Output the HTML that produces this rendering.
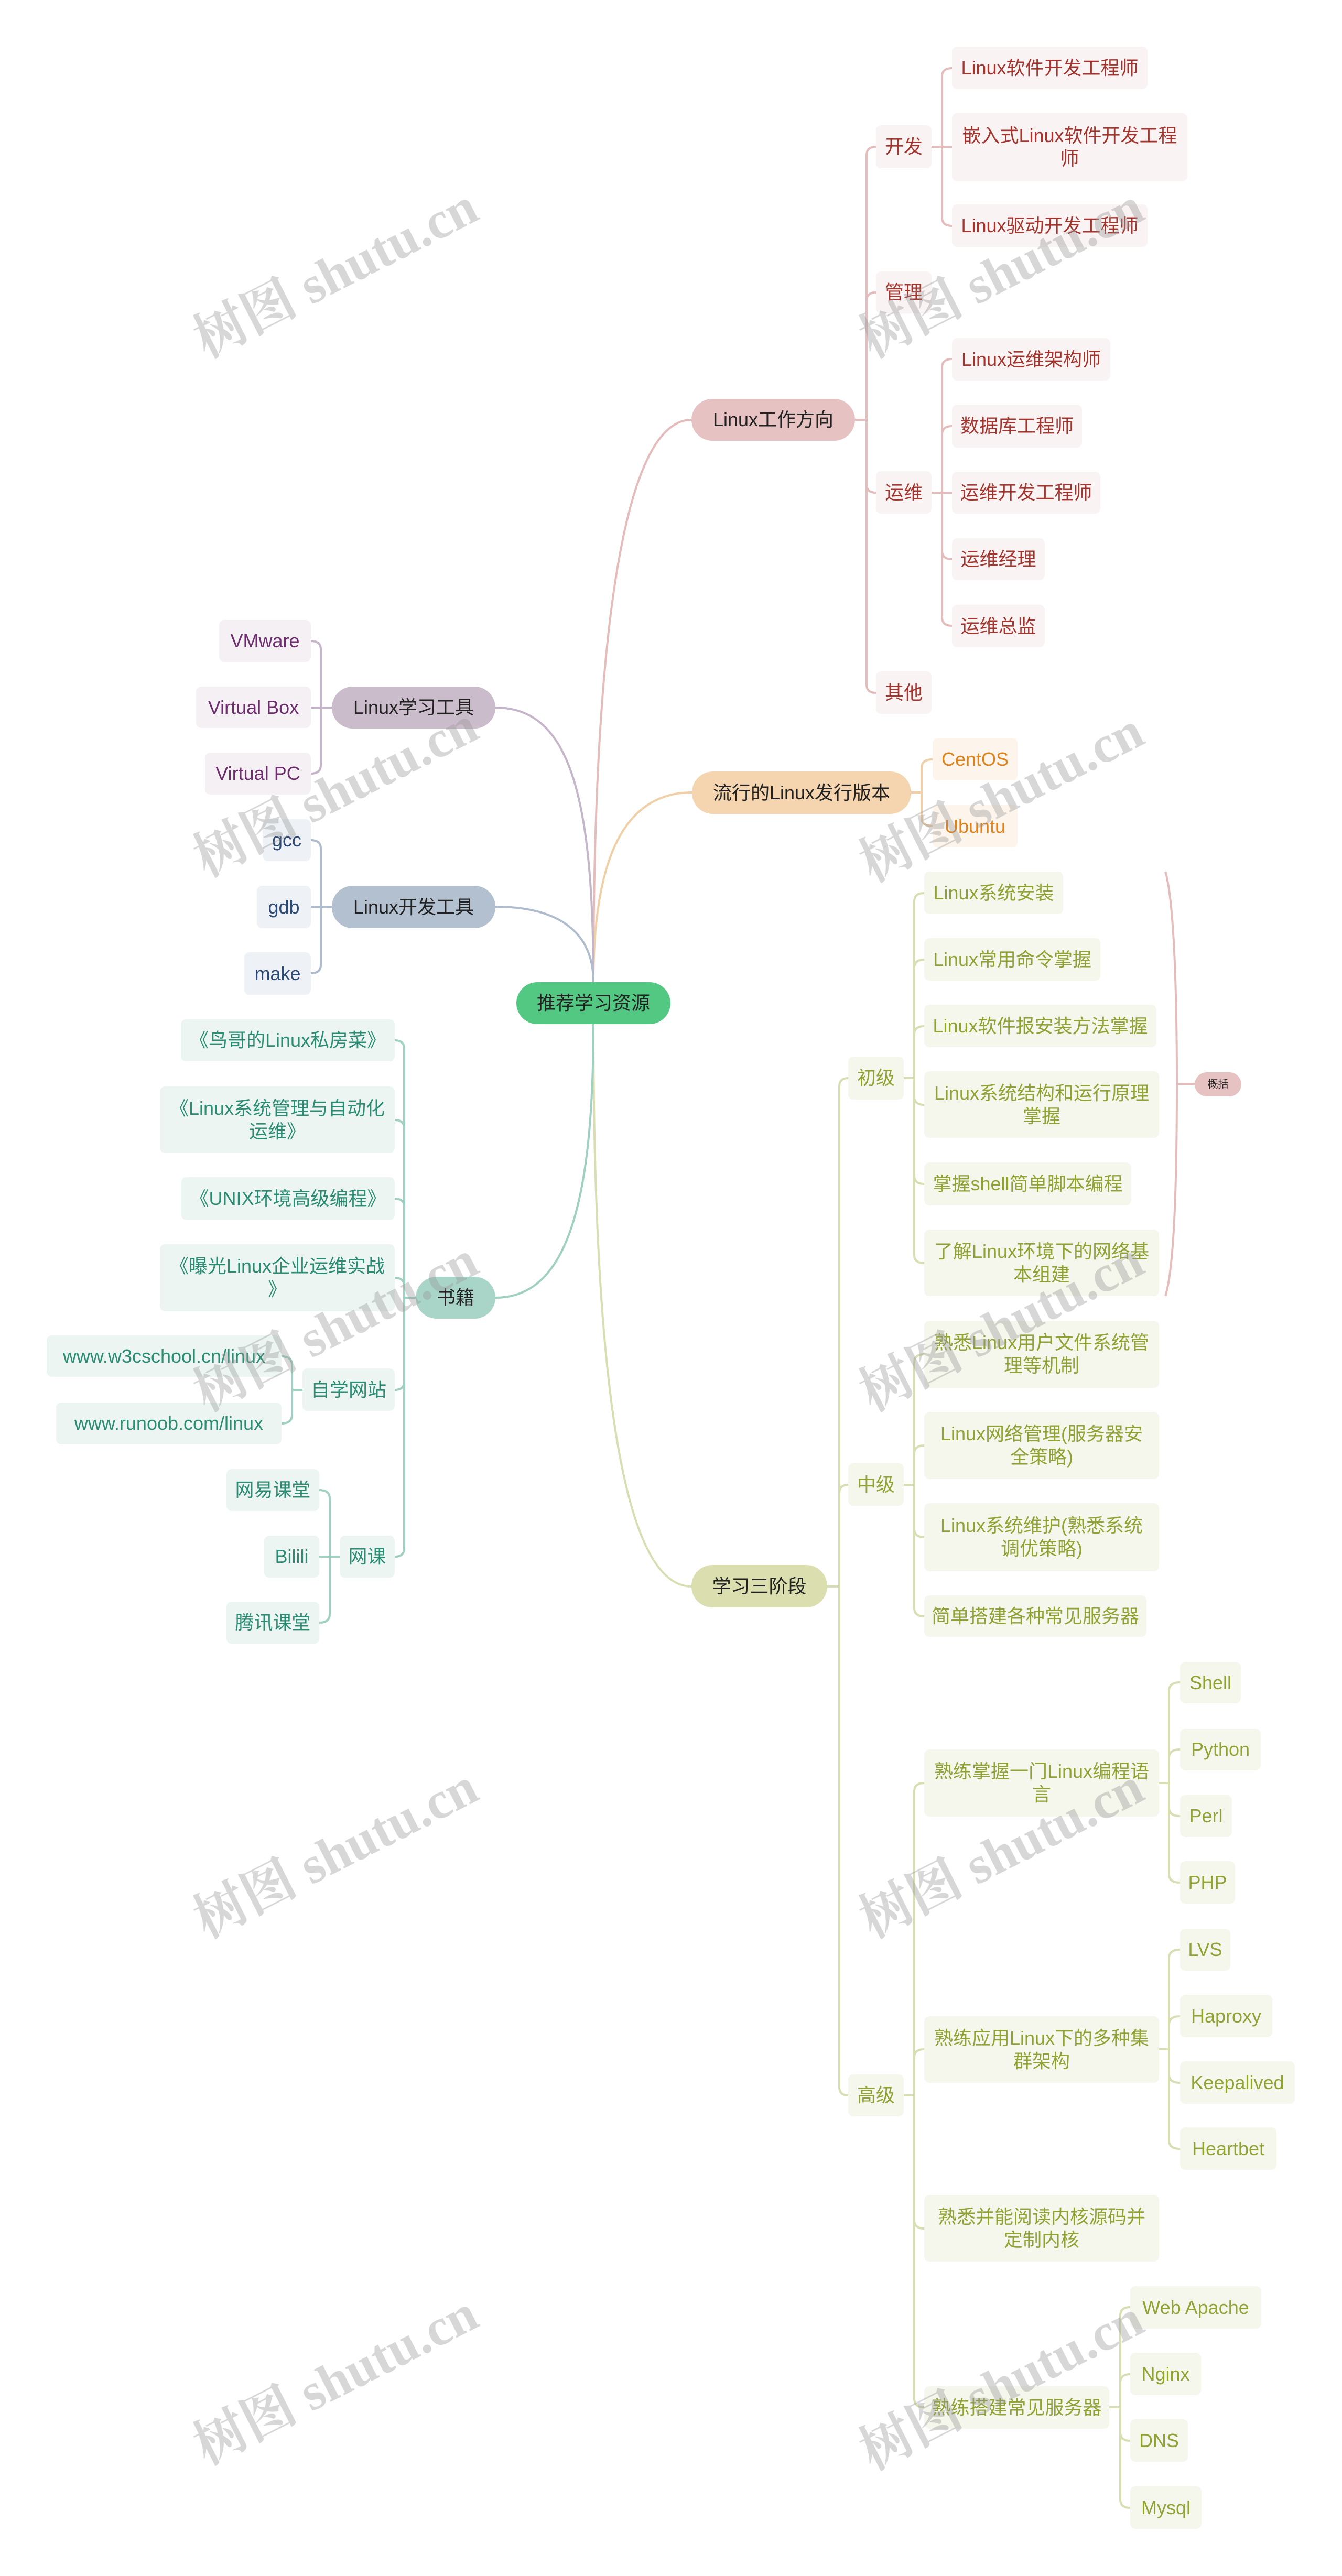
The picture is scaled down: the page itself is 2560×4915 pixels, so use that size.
<!DOCTYPE html>
<html><head><meta charset="utf-8">
<style>
html,body{margin:0;padding:0;background:#fff;}
body{width:2560px;height:4915px;position:relative;overflow:hidden;font-family:"Liberation Sans","Noto Sans CJK SC",sans-serif;}
.n{position:absolute;display:flex;align-items:center;justify-content:center;text-align:center;box-sizing:border-box;border-radius:10px;font-size:36px;line-height:44px;white-space:nowrap;}
.p{border-radius:40px;color:#222;}
.pk{background:#faf3f3;color:#a3352e;}
.or{background:#fdf5ec;color:#e0821a;}
.ol{background:#f5f6ec;color:#8fa233;}
.pu{background:#f4f0f4;color:#6e2d6e;}
.nv{background:#eef2f6;color:#2c4a75;}
.tl{background:#ecf5f2;color:#2a8c72;}
.wm{position:absolute;width:760px;text-align:center;white-space:nowrap;font-family:"Liberation Serif","Noto Serif CJK SC",serif;font-weight:bold;font-size:100px;color:rgba(150,150,150,0.38);transform:rotate(-27deg);}
</style></head><body>
<svg width="2560" height="4915" style="position:absolute;left:0;top:0" fill="none" stroke-width="4">
<g stroke="#e5bcbc">
<path d="M1132,1874 C1132,1150 1200,801 1319,801"/>
<path d="M1631,801 H1653"/>
<path d="M1653,801 V296 Q1653,280 1671,280"/>
<path d="M1653,801 V574 Q1653,558 1671,558"/>
<path d="M1653,801 V924 Q1653,940 1671,940"/>
<path d="M1653,801 V1306 Q1653,1322 1671,1322"/>
<path d="M1777,280 H1797"/>
<path d="M1797,280 V146 Q1797,130 1816,130"/>
<path d="M1797,280 H1816"/>
<path d="M1797,280 V415 Q1797,431 1816,431"/>
<path d="M1777,940 H1797"/>
<path d="M1797,940 V701 Q1797,685 1816,685"/>
<path d="M1797,940 V829 Q1797,813 1816,813"/>
<path d="M1797,940 H1816"/>
<path d="M1797,940 V1051 Q1797,1067 1816,1067"/>
<path d="M1797,940 V1178 Q1797,1194 1816,1194"/>
<path d="M2223,1663 C2240,1720 2245,1900 2245,2068 C2245,2250 2240,2420 2223,2473"/>
<path d="M2245,2068 H2279"/>
</g>
<g stroke="#f0cfa6">
<path d="M1132,1874 C1132,1620 1200,1512 1320,1512"/>
<path d="M1738,1512 H1758"/>
<path d="M1758,1512 V1465 Q1758,1449 1779,1449"/>
<path d="M1758,1512 V1560 Q1758,1576 1779,1576"/>
</g>
<g stroke="#d9deb2">
<path d="M1132,1954 C1132,2700 1200,3027 1319,3027"/>
<path d="M1578,3027 H1601"/>
<path d="M1601,3027 V2073 Q1601,2057 1618,2057"/>
<path d="M1601,3027 V2849 Q1601,2833 1618,2833"/>
<path d="M1601,3027 V3982 Q1601,3998 1618,3998"/>
<path d="M1724,2057 H1744"/>
<path d="M1744,2057 V1720 Q1744,1704 1763,1704"/>
<path d="M1744,2057 V1847 Q1744,1831 1763,1831"/>
<path d="M1744,2057 V1974 Q1744,1958 1763,1958"/>
<path d="M1744,2057 V2092 Q1744,2108 1763,2108"/>
<path d="M1744,2057 V2243 Q1744,2259 1763,2259"/>
<path d="M1744,2057 V2394 Q1744,2410 1763,2410"/>
<path d="M1724,2833 H1744"/>
<path d="M1744,2833 V2600 Q1744,2584 1763,2584"/>
<path d="M1744,2833 V2774 Q1744,2758 1763,2758"/>
<path d="M1744,2833 V2917 Q1744,2933 1763,2933"/>
<path d="M1744,2833 V3068 Q1744,3084 1763,3084"/>
<path d="M1724,3998 H1744"/>
<path d="M1744,3998 V3418 Q1744,3402 1763,3402"/>
<path d="M1744,3998 V3926 Q1744,3910 1763,3910"/>
<path d="M1744,3998 V4236 Q1744,4252 1763,4252"/>
<path d="M1744,3998 V4577 Q1744,4593 1763,4593"/>
<path d="M2211,3402 H2230"/>
<path d="M2230,3402 V3226 Q2230,3210 2251,3210"/>
<path d="M2230,3402 V3354 Q2230,3338 2251,3338"/>
<path d="M2230,3402 V3449 Q2230,3465 2251,3465"/>
<path d="M2230,3402 V3576 Q2230,3592 2251,3592"/>
<path d="M2211,3910 H2230"/>
<path d="M2230,3910 V3736 Q2230,3720 2251,3720"/>
<path d="M2230,3910 V3863 Q2230,3847 2251,3847"/>
<path d="M2230,3910 V3958 Q2230,3974 2251,3974"/>
<path d="M2230,3910 V4084 Q2230,4100 2251,4100"/>
<path d="M2116,4593 H2137"/>
<path d="M2137,4593 V4418 Q2137,4402 2156,4402"/>
<path d="M2137,4593 V4546 Q2137,4530 2156,4530"/>
<path d="M2137,4593 V4641 Q2137,4657 2156,4657"/>
<path d="M2137,4593 V4769 Q2137,4785 2156,4785"/>
</g>
<g stroke="#c4b6c8">
<path d="M945,1350 C1080,1350 1132,1500 1132,1874"/>
<path d="M633,1350 H612"/>
<path d="M612,1350 V1239 Q612,1223 593,1223"/>
<path d="M612,1350 H593"/>
<path d="M612,1350 V1460 Q612,1476 593,1476"/>
</g>
<g stroke="#aebccd">
<path d="M945,1730 C1080,1730 1132,1790 1132,1874"/>
<path d="M633,1730 H612"/>
<path d="M612,1730 V1619 Q612,1603 593,1603"/>
<path d="M612,1730 H593"/>
<path d="M612,1730 V1841 Q612,1857 593,1857"/>
</g>
<g stroke="#9fd0c2">
<path d="M945,2476 C1080,2476 1132,2300 1132,1954"/>
<path d="M793,2476 H771"/>
<path d="M771,2476 V2001 Q771,1985 753,1985"/>
<path d="M771,2476 V2153 Q771,2137 753,2137"/>
<path d="M771,2476 V2303 Q771,2287 753,2287"/>
<path d="M771,2476 V2454 Q771,2438 753,2438"/>
<path d="M771,2476 V2636 Q771,2652 753,2652"/>
<path d="M771,2476 V2954 Q771,2970 753,2970"/>
<path d="M577,2652 H557"/>
<path d="M557,2652 V2604 Q557,2588 537,2588"/>
<path d="M557,2652 V2700 Q557,2716 537,2716"/>
<path d="M648,2970 H629"/>
<path d="M629,2970 V2859 Q629,2843 609,2843"/>
<path d="M629,2970 H609"/>
<path d="M629,2970 V3080 Q629,3096 609,3096"/>
</g>
</svg>

<div class="n p" style="left:985px;top:1874px;width:294px;height:80px;background:#52c882;">推荐学习资源</div>

<div class="n p" style="left:1319px;top:761px;width:312px;height:80px;background:#e6c2c2;">Linux工作方向</div>
<div class="n pk" style="left:1671px;top:239px;width:106px;height:82px;">开发</div>
<div class="n pk" style="left:1671px;top:518px;width:106px;height:80px;">管理</div>
<div class="n pk" style="left:1671px;top:899px;width:106px;height:81px;">运维</div>
<div class="n pk" style="left:1671px;top:1281px;width:106px;height:81px;">其他</div>
<div class="n pk" style="left:1816px;top:89px;width:373px;height:81px;">Linux软件开发工程师</div>
<div class="n pk" style="left:1816px;top:216px;width:449px;height:130px;">嵌入式Linux软件开发工程<br>师</div>
<div class="n pk" style="left:1816px;top:390px;width:373px;height:81px;">Linux驱动开发工程师</div>
<div class="n pk" style="left:1816px;top:645px;width:302px;height:81px;">Linux运维架构师</div>
<div class="n pk" style="left:1816px;top:772px;width:248px;height:82px;">数据库工程师</div>
<div class="n pk" style="left:1816px;top:900px;width:283px;height:80px;">运维开发工程师</div>
<div class="n pk" style="left:1816px;top:1027px;width:177px;height:80px;">运维经理</div>
<div class="n pk" style="left:1816px;top:1154px;width:177px;height:81px;">运维总监</div>

<div class="n p" style="left:1320px;top:1472px;width:418px;height:81px;background:#f5d5b0;">流行的Linux发行版本</div>
<div class="n or" style="left:1779px;top:1408px;width:162px;height:81px;">CentOS</div>
<div class="n or" style="left:1779px;top:1536px;width:162px;height:81px;">Ubuntu</div>

<div class="n p" style="left:1319px;top:2986px;width:259px;height:81px;background:#dbdfb0;">学习三阶段</div>
<div class="n ol" style="left:1618px;top:2016px;width:106px;height:82px;">初级</div>
<div class="n ol" style="left:1618px;top:2792px;width:106px;height:81px;">中级</div>
<div class="n ol" style="left:1618px;top:3958px;width:106px;height:80px;">高级</div>
<div class="n ol" style="left:1763px;top:1663px;width:265px;height:81px;">Linux系统安装</div>
<div class="n ol" style="left:1763px;top:1790px;width:336px;height:81px;">Linux常用命令掌握</div>
<div class="n ol" style="left:1763px;top:1917px;width:443px;height:81px;">Linux软件报安装方法掌握</div>
<div class="n ol" style="left:1763px;top:2044px;width:448px;height:127px;">Linux系统结构和运行原理<br>掌握</div>
<div class="n ol" style="left:1763px;top:2218px;width:395px;height:82px;">掌握shell简单脚本编程</div>
<div class="n ol" style="left:1763px;top:2346px;width:448px;height:127px;">了解Linux环境下的网络基<br>本组建</div>
<div class="n ol" style="left:1763px;top:2520px;width:448px;height:128px;">熟悉Linux用户文件系统管<br>理等机制</div>
<div class="n ol" style="left:1763px;top:2694px;width:448px;height:128px;">Linux网络管理(服务器安<br>全策略)</div>
<div class="n ol" style="left:1763px;top:2868px;width:448px;height:130px;">Linux系统维护(熟悉系统<br>调优策略)</div>
<div class="n ol" style="left:1763px;top:3044px;width:424px;height:79px;">简单搭建各种常见服务器</div>
<div class="n ol" style="left:1763px;top:3338px;width:448px;height:128px;">熟练掌握一门Linux编程语<br>言</div>
<div class="n ol" style="left:1763px;top:3847px;width:448px;height:127px;">熟练应用Linux下的多种集<br>群架构</div>
<div class="n ol" style="left:1763px;top:4188px;width:448px;height:127px;">熟悉并能阅读内核源码并<br>定制内核</div>
<div class="n ol" style="left:1763px;top:4553px;width:353px;height:81px;">熟练搭建常见服务器</div>
<div class="n ol" style="left:2251px;top:3171px;width:116px;height:79px;">Shell</div>
<div class="n ol" style="left:2251px;top:3298px;width:154px;height:80px;">Python</div>
<div class="n ol" style="left:2251px;top:3425px;width:99px;height:80px;">Perl</div>
<div class="n ol" style="left:2251px;top:3551px;width:105px;height:81px;">PHP</div>
<div class="n ol" style="left:2251px;top:3680px;width:96px;height:80px;">LVS</div>
<div class="n ol" style="left:2251px;top:3806px;width:176px;height:81px;">Haproxy</div>
<div class="n ol" style="left:2251px;top:3933px;width:219px;height:81px;">Keepalived</div>
<div class="n ol" style="left:2251px;top:4059px;width:184px;height:81px;">Heartbet</div>
<div class="n ol" style="left:2156px;top:4362px;width:250px;height:81px;">Web Apache</div>
<div class="n ol" style="left:2156px;top:4489px;width:135px;height:81px;">Nginx</div>
<div class="n ol" style="left:2156px;top:4616px;width:110px;height:81px;">DNS</div>
<div class="n ol" style="left:2156px;top:4744px;width:136px;height:81px;">Mysql</div>
<div class="n p" style="left:2279px;top:2046px;width:89px;height:46px;background:#e6c2c2;font-size:20px;">概括</div>

<div class="n p" style="left:633px;top:1310px;width:312px;height:80px;background:#cbbccb;">Linux学习工具</div>
<div class="n pu" style="left:418px;top:1183px;width:175px;height:80px;">VMware</div>
<div class="n pu" style="left:374px;top:1310px;width:219px;height:79px;">Virtual Box</div>
<div class="n pu" style="left:391px;top:1436px;width:202px;height:80px;">Virtual PC</div>

<div class="n p" style="left:633px;top:1690px;width:312px;height:81px;background:#b2c0d0;">Linux开发工具</div>
<div class="n nv" style="left:501px;top:1563px;width:92px;height:80px;">gcc</div>
<div class="n nv" style="left:490px;top:1690px;width:103px;height:81px;">gdb</div>
<div class="n nv" style="left:466px;top:1817px;width:127px;height:81px;">make</div>

<div class="n p" style="left:793px;top:2436px;width:152px;height:80px;background:#a8d5c8;">书籍</div>
<div class="n tl" style="left:345px;top:1945px;width:408px;height:80px;">《鸟哥的Linux私房菜》</div>
<div class="n tl" style="left:305px;top:2073px;width:448px;height:127px;">《Linux系统管理与自动化<br>运维》</div>
<div class="n tl" style="left:346px;top:2246px;width:407px;height:82px;">《UNIX环境高级编程》</div>
<div class="n tl" style="left:305px;top:2374px;width:448px;height:128px;">《曝光Linux企业运维实战<br>》</div>
<div class="n tl" style="left:577px;top:2611px;width:176px;height:81px;">自学网站</div>
<div class="n tl" style="left:89px;top:2548px;width:448px;height:79px;">www.w3cschool.cn/linux</div>
<div class="n tl" style="left:107px;top:2676px;width:430px;height:80px;">www.runoob.com/linux</div>
<div class="n tl" style="left:648px;top:2930px;width:105px;height:80px;">网课</div>
<div class="n tl" style="left:432px;top:2803px;width:177px;height:80px;">网易课堂</div>
<div class="n tl" style="left:504px;top:2930px;width:105px;height:80px;">Bilili</div>
<div class="n tl" style="left:432px;top:3056px;width:177px;height:80px;">腾讯课堂</div>

<div class="wm" style="left:256px;top:440px;">树图 shutu.cn</div>
<div class="wm" style="left:1526px;top:440px;">树图 shutu.cn</div>
<div class="wm" style="left:256px;top:1430px;">树图 shutu.cn</div>
<div class="wm" style="left:1526px;top:1440px;">树图 shutu.cn</div>
<div class="wm" style="left:256px;top:2450px;">树图 shutu.cn</div>
<div class="wm" style="left:1526px;top:2450px;">树图 shutu.cn</div>
<div class="wm" style="left:256px;top:3455px;">树图 shutu.cn</div>
<div class="wm" style="left:1526px;top:3455px;">树图 shutu.cn</div>
<div class="wm" style="left:256px;top:4460px;">树图 shutu.cn</div>
<div class="wm" style="left:1526px;top:4470px;">树图 shutu.cn</div>
</body></html>
